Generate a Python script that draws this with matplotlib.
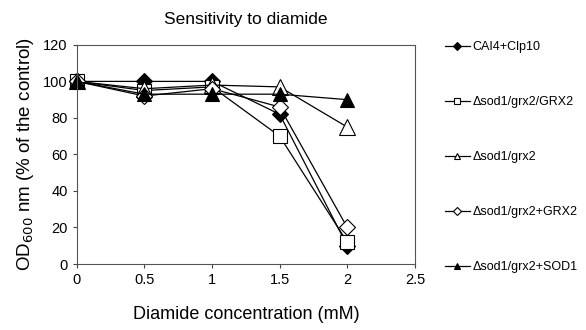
import numpy as np
import matplotlib.pyplot as plt

plt.rcParams['font.family'] = ['Liberation Sans', 'DejaVu Sans']

conc = [0, 0.5, 1, 1.5, 2]
labels = ["CAI4+Clp10", "Δsod1/grx2/GRX2", "Δsod1/grx2",
          "Δsod1/grx2+GRX2", "Δsod1/grx2+SOD1"]
cai4 = [100, 100, 100, 82, 10]
grx2_grx2 = [100, 95, 97, 70, 12]
grx2 = [100, 96, 98, 97, 75]
grx2_plus = [100, 92, 96, 86, 20]
sod1_plus = [100, 93, 93, 93, 90]

series = [cai4, grx2_grx2, grx2, grx2_plus, sod1_plus]
markers = ["D", "s", "^", "D", "^"]
fills = ["black", "white", "white", "white", "black"]
sizes = [8, 10, 11, 8, 10]

fig = plt.figure(figsize=(5.86, 3.30), dpi=100)
ax = fig.add_axes([0.131, 0.2, 0.577, 0.664])

for vals, m, fc, ms, lab in zip(series, markers, fills, sizes, labels):
    ax.plot(conc, vals, color="black", lw=0.9, marker=m, ms=ms,
            mfc=fc, mec="black", mew=0.8, label=lab, clip_on=False)

ax.set_xlim(0, 2.5)
ax.set_ylim(0, 120)
ax.set_xticks([0, 0.5, 1, 1.5, 2, 2.5])
ax.set_xticklabels(["0", "0.5", "1", "1.5", "2", "2.5"])
ax.set_yticks(range(0, 121, 20))
ax.tick_params(labelsize=10.5, length=3, color="#444444")
for s in ax.spines.values():
    s.set_color("#555555")
    s.set_linewidth(0.8)

ax.set_xlabel("Diamide concentration (mM)", fontsize=13, labelpad=14)
ax.set_ylabel("OD$_{600}$ nm (% of the control)", fontsize=13.5, labelpad=5)
ax.set_title("Sensitivity to diamide", fontsize=12.5, pad=15)

# legend with small markers, widely spaced
leg_handles = []
for m, fc in zip(markers, fills):
    lh, = plt.plot([], [], color="black", lw=0.9, marker=m, ms=4,
                   mfc=fc, mec="black", mew=0.8)
    leg_handles.append(lh)
fig.legend(leg_handles, labels, loc="upper left",
           bbox_to_anchor=(0.74, 0.91), frameon=False, fontsize=9,
           handlelength=2.0, handletextpad=0.2, labelspacing=3.45)

fig.savefig("out.png", dpi=100)
